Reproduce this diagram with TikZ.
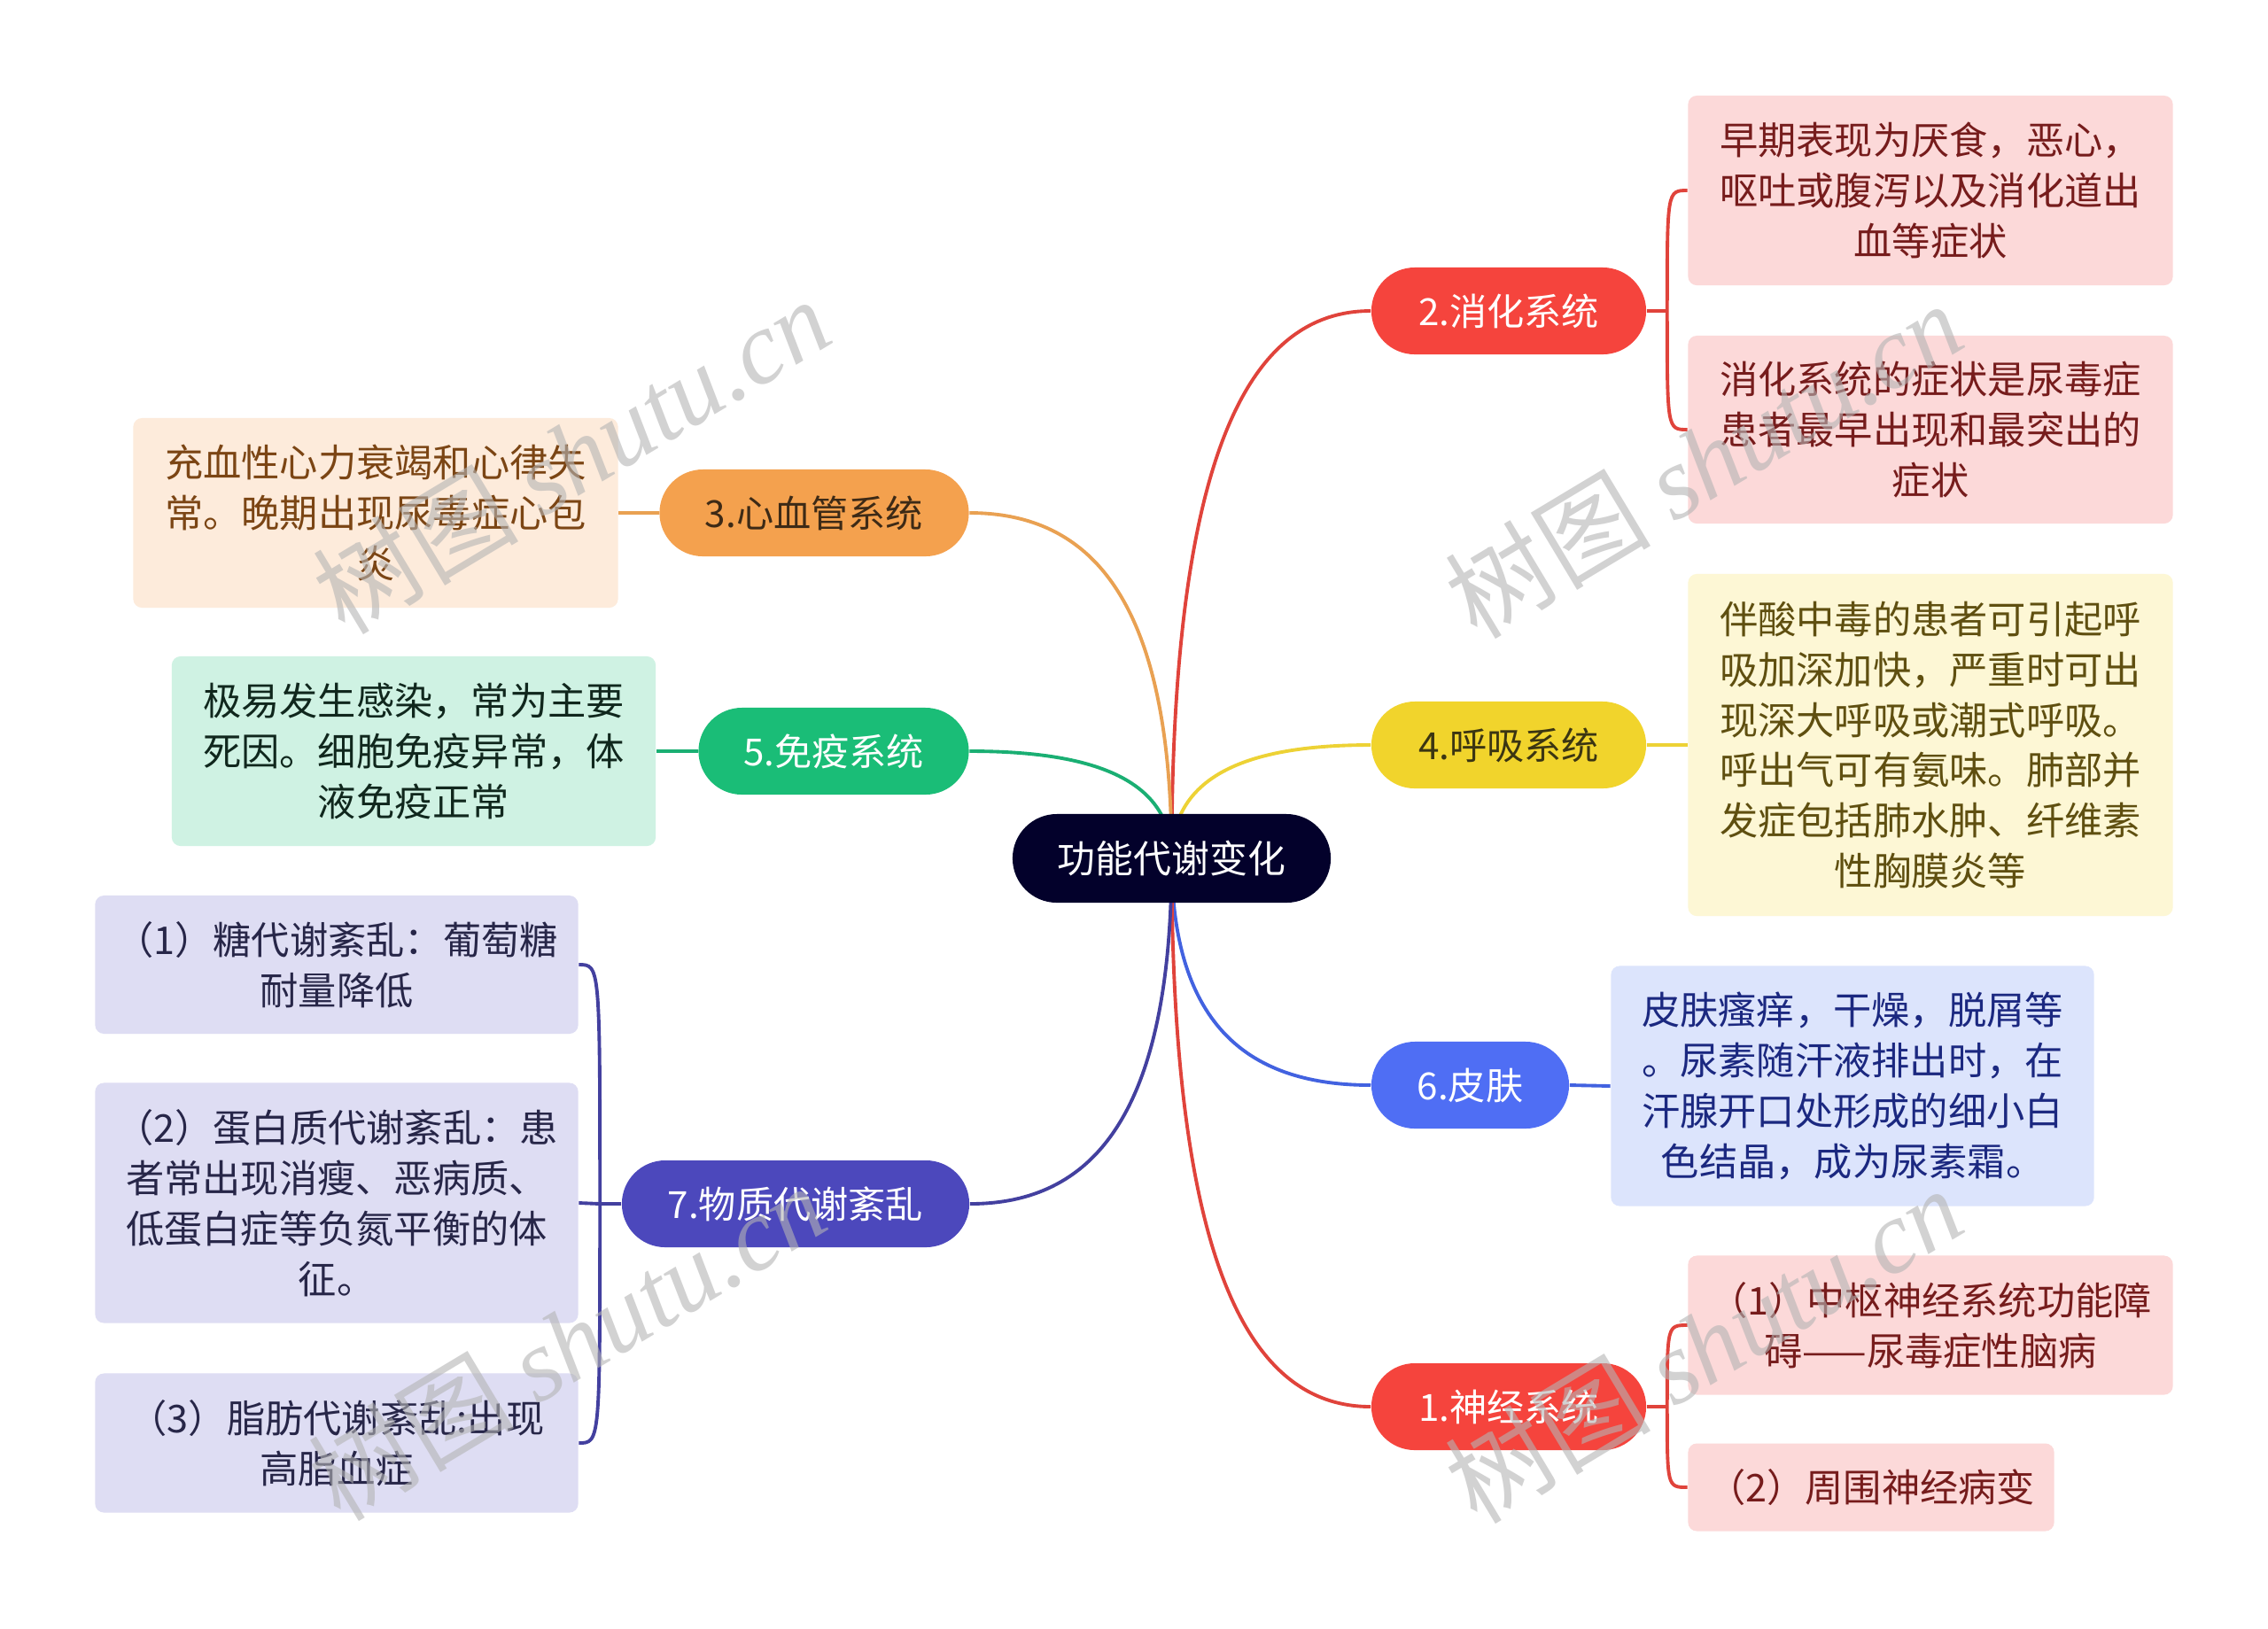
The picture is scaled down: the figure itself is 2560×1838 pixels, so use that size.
\documentclass[tikz,border=0pt]{standalone}
\usepackage{fontspec}
\setmainfont{Noto Sans CJK SC}
\newfontfamily\wmfont{Liberation Serif}
\usetikzlibrary{calc}
\pgfdeclarelayer{bg}
\pgfsetlayers{bg,main}
\definecolor{rootc}{HTML}{03012B}
\definecolor{redc}{HTML}{F5443D}
\definecolor{redline}{HTML}{E0433B}
\definecolor{redleaf}{HTML}{FCD9D9}
\definecolor{redtext}{HTML}{761C1C}
\definecolor{orac}{HTML}{F4A14E}
\definecolor{oraline}{HTML}{E9A152}
\definecolor{oraleaf}{HTML}{FDEBDB}
\definecolor{oratext}{HTML}{7B4514}
\definecolor{oranodetext}{HTML}{3D2A16}
\definecolor{yelc}{HTML}{F1D42C}
\definecolor{yelline}{HTML}{EDD235}
\definecolor{yelleaf}{HTML}{FDF7D5}
\definecolor{yeltext}{HTML}{5F4F10}
\definecolor{yelnodetext}{HTML}{3B3512}
\definecolor{grnc}{HTML}{1ABD77}
\definecolor{grnline}{HTML}{1AAF73}
\definecolor{grnleaf}{HTML}{CFF2E3}
\definecolor{grntext}{HTML}{10271D}
\definecolor{bluc}{HTML}{4F6EF4}
\definecolor{bluline}{HTML}{4262E0}
\definecolor{bluleaf}{HTML}{DCE4FC}
\definecolor{blutext}{HTML}{1B2880}
\definecolor{indc}{HTML}{4C48BC}
\definecolor{indline}{HTML}{43409F}
\definecolor{indleaf}{HTML}{DEDDF3}
\definecolor{indtext}{HTML}{272648}
\definecolor{wmgray}{HTML}{B4B4B4}
\tikzset{
  rootnode/.style={fill=rootc, text=white, rounded corners=0.5cm, minimum width=3.59cm, minimum height=1.0cm, inner sep=0pt, font=\fontsize{12.2pt}{14pt}\selectfont},
  mainnode/.style={rounded corners=0.49cm, minimum height=0.98cm, inner sep=0pt, font=\fontsize{12pt}{14pt}\selectfont, text=white},
  leafnode/.style={rounded corners=0.1cm, inner sep=0pt, align=center, font=\fontsize{12.3pt}{16.2pt}\selectfont},
  link/.style={line width=1.1pt},
  wmark/.style={rotate=31, text=wmgray, opacity=0.6, font=\fontsize{33pt}{36pt}\selectfont}
}
\begin{document}
\begin{tikzpicture}[x=0.01cm, y=-0.01cm]
\begin{pgfonlayer}{bg}
\fill[white] (0,0) rectangle (2560,1838);
\end{pgfonlayer}
\useasboundingbox (0,0) rectangle (2560,1838);

% root
\node[rootnode] (root) at (1322.5,969) {功能代谢变化};

% level 1
\node[mainnode, fill=redc, minimum width=3.10cm] (n2) at (1703,351) {2.消化系统};
\node[mainnode, fill=yelc, text=yelnodetext, minimum width=3.10cm] (n4) at (1703,841) {4.呼吸系统};
\node[mainnode, fill=bluc, minimum width=2.23cm] (n6) at (1659.5,1225) {6.皮肤};
\node[mainnode, fill=redc, minimum width=3.10cm] (n1) at (1703,1588) {1.神经系统};
\node[mainnode, fill=orac, text=oranodetext, minimum width=3.49cm] (n3) at (919,579) {3.心血管系统};
\node[mainnode, fill=grnc, minimum width=3.05cm] (n5) at (941,848) {5.免疫系统};
\node[mainnode, fill=indc, minimum width=3.92cm] (n7) at (898,1359) {7.物质代谢紊乱};

% leaves
\node[leafnode, fill=redleaf, text=redtext, minimum width=5.47cm, minimum height=2.14cm] (l2a) at (2179,215) {早期表现为厌食，恶心，\\呕吐或腹泻以及消化道出\\血等症状};
\node[leafnode, fill=redleaf, text=redtext, minimum width=5.47cm, minimum height=2.12cm] (l2b) at (2179,485) {消化系统的症状是尿毒症\\患者最早出现和最突出的\\症状};
\node[leafnode, fill=yelleaf, text=yeltext, minimum width=5.47cm, minimum height=3.86cm] (l4) at (2179,841) {伴酸中毒的患者可引起呼\\吸加深加快，严重时可出\\现深大呼吸或潮式呼吸。\\呼出气可有氨味。肺部并\\发症包括肺水肿、纤维素\\性胸膜炎等};
\node[leafnode, fill=bluleaf, text=blutext, minimum width=5.45cm, minimum height=2.71cm] (l6) at (2091,1226) {皮肤瘙痒，干燥，脱屑等\\。尿素随汗液排出时，在\\汗腺开口处形成的细小白\\色结晶，成为尿素霜。};
\node[leafnode, fill=redleaf, text=redtext, minimum width=5.47cm, minimum height=1.57cm] (l1a) at (2179,1496) {（1）中枢神经系统功能障\\碍——尿毒症性脑病};
\node[leafnode, fill=redleaf, text=redtext, minimum width=4.13cm, minimum height=0.99cm] (l1b) at (2112,1679) {（2）周围神经病变};
\node[leafnode, fill=oraleaf, text=oratext, minimum width=5.47cm, minimum height=2.14cm] (l3) at (424,579) {充血性心力衰竭和心律失\\常。晚期出现尿毒症心包\\炎};
\node[leafnode, fill=grnleaf, text=grntext, minimum width=5.46cm, minimum height=2.14cm] (l5) at (467,848) {极易发生感染，常为主要\\死因。细胞免疫异常，体\\液免疫正常};
\node[leafnode, fill=indleaf, text=indtext, minimum width=5.45cm, minimum height=1.56cm] (l7a) at (380,1089) {（1）糖代谢紊乱：葡萄糖\\耐量降低};
\node[leafnode, fill=indleaf, text=indtext, minimum width=5.45cm, minimum height=2.71cm] (l7b) at (380,1358) {（2）蛋白质代谢紊乱：患\\者常出现消瘦、恶病质、\\低蛋白症等负氮平衡的体\\征。};
\node[leafnode, fill=indleaf, text=indtext, minimum width=5.45cm, minimum height=1.57cm] (l7c) at (380,1629) {（3）脂肪代谢紊乱:出现\\高脂血症};

% split coordinates
\coordinate (s2) at ($(n2.east)+(23,0)$);
\coordinate (s1) at ($(n1.east)+(23,0)$);
\coordinate (s7) at ($(n7.west)+(-24,0)$);

\begin{pgfonlayer}{bg}
% root links
\foreach \t/\c/\a in {n2/redline/west, n4/yelline/west, n6/bluline/west, n1/redline/west, n3/oraline/east, n5/grnline/east, n7/indline/east}{
  \draw[link, draw=\c] (root.center) .. controls ($(root.center)!0.75!(root.center|-\t.\a)$) and ($(\t.\a)!0.6!(root.center|-\t.\a)$) .. (\t.\a);
}
% leaf links
\draw[link, draw=redline] (n2.east) -- (s2);
\draw[link, draw=redline] (s2) .. controls (s2|-l2a.west) .. (l2a.west);
\draw[link, draw=redline] (s2) .. controls (s2|-l2b.west) .. (l2b.west);
\draw[link, draw=yelline] (n4.east) -- (l4.west);
\draw[link, draw=bluline] (n6.east) -- (l6.west);
\draw[link, draw=redline] (n1.east) -- (s1);
\draw[link, draw=redline] (s1) .. controls (s1|-l1a.west) .. (l1a.west);
\draw[link, draw=redline] (s1) .. controls (s1|-l1b.west) .. (l1b.west);
\draw[link, draw=oraline] (n3.west) -- (l3.east);
\draw[link, draw=grnline] (n5.west) -- (l5.east);
\draw[link, draw=indline] (n7.west) -- (s7);
\draw[link, draw=indline] (s7) .. controls (s7|-l7a.east) .. (l7a.east);
\draw[link, draw=indline] (s7) -- (l7b.east);
\draw[link, draw=indline] (s7) .. controls (s7|-l7c.east) .. (l7c.east);
\end{pgfonlayer}

% watermarks
\node[wmark] (wm1) at (645,514) {树图 {\wmfont\itshape shutu.cn}};
\node[wmark] (wm2) at (1923,519) {树图 {\wmfont\itshape shutu.cn}};
\node[wmark] (wm3) at (1923,1518) {树图 {\wmfont\itshape shutu.cn}};
\node[wmark] (wm4) at (640,1515) {树图 {\wmfont\itshape shutu.cn}};
\end{tikzpicture}
\end{document}
